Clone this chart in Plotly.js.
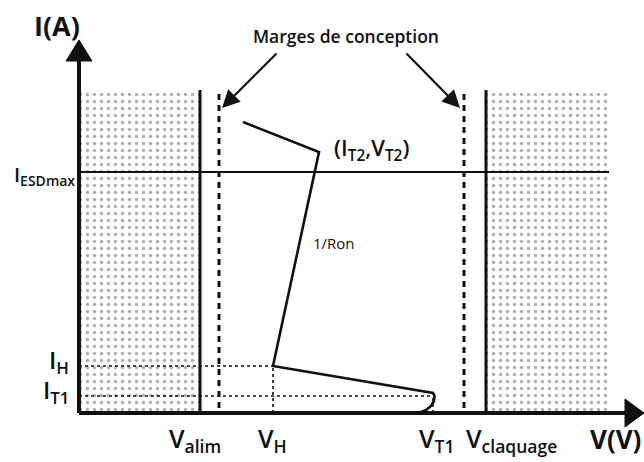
<!DOCTYPE html>
<html><head><meta charset="utf-8">
<script src="https://cdn.plot.ly/plotly-3.0.1.min.js"></script>
<style>html,body{margin:0;padding:0;background:#fff}</style>
</head><body><div id="chart" style="width:644px;height:462px"></div>
<script>
// Schematic coordinates (V, I in arbitrary units)
const Valim = 121, Vmarge1 = 140, VH = 194, VT2 = 240, VT1 = 354, Vmarge2 = 385, Vclaq = 407, Vend = 530;
const IH = 47, IT1 = 17, IESD = 241, IT2 = 261, Itop = 323;
const curveV = [164, 240, 194, 354, 355.5, 355, 352, 347, 342, 337];
const curveI = [291, 261, 47, 20, 17, 12, 7, 3, 1, 0];
const zoneCenters = [60.5, 468.5];
const zoneWidths = [121, 123];
const zoneHeights = [Itop, Itop];
const yAxisV = [0, 0], yAxisI = [0, 355];
const xAxisV = [0, 548], xAxisI = [0, 0];
const yArrowV = [-13, 13, 0, -13], yArrowI = [352, 352, 373, 352];
const xArrowV = [546, 546, 565, 546], xArrowI = [-14, 14, 0, -14];
const tickLabels = ['V<sub>alim</sub>', 'V<sub>H</sub>', 'V<sub>T1</sub>', 'V<sub>claquage</sub>'];
const tickV = [116, 193, 357, 432];
const ylabels = ['I<sub>H</sub>', 'I<sub>T1</sub>'];
const ylabelI = [52, 22];

const FONT = 'Open Sans, sans-serif';
const K = '#111';
const traces = [];
traces.push({type:'bar', x:zoneCenters, y:zoneHeights, width:zoneWidths, base:[0,0],
  marker:{color:'white', line:{width:0}, pattern:{shape:'.', fgcolor:'#b0b0b0', bgcolor:'white', size:7, solidity:0.2}},
  hoverinfo:'skip', showlegend:false});
function line(xs, ys, w, dash, color){
  traces.push({type:'scatter', mode:'lines', x:xs, y:ys, line:{color:color||K, width:w, dash:dash||'solid'}, hoverinfo:'skip', showlegend:false});
}
// horizontal IESDmax line
line([0, Vend], [IESD, IESD], 2);
// dotted guides
line([0, VH], [IH, IH], 1.6, 'dot');
line([VH, VH], [0, IH], 1.6, 'dot');
line([0, VT1], [IT1, IT1], 1.6, 'dot');
line([VT1, VT1], [0, IT1], 1.6, 'dot');
// supply & breakdown
line([Valim, Valim], [0, Itop], 3);
line([Vclaq, Vclaq], [0, Itop], 3);
// design margins
line([Vmarge1, Vmarge1], [5, Itop], 3, '6px,5px');
line([Vmarge2, Vmarge2], [5, Itop], 3, '6px,5px');
// I-V curve
traces.push({type:'scatter', mode:'lines', x:curveV, y:curveI, line:{color:K, width:2.6}, hoverinfo:'skip', showlegend:false});
// axes
line(yAxisV, yAxisI, 4);
line(xAxisV, xAxisI, 4);
traces.push({type:'scatter', mode:'lines', x:yArrowV, y:yArrowI, fill:'toself', fillcolor:K, line:{color:K, width:1}, hoverinfo:'skip', showlegend:false});
traces.push({type:'scatter', mode:'lines', x:xArrowV, y:xArrowI, fill:'toself', fillcolor:K, line:{color:K, width:1}, hoverinfo:'skip', showlegend:false});

const ann = [];
function txt(x, y, t, size, opts, weight){
  ann.push(Object.assign({x:x, y:y, xref:'x', yref:'y', text:t, showarrow:false, font:{family:FONT, size:size, color:K, weight:weight||600}}, opts||{}));
}
txt(-22, 388, 'I(A)', 27, null, 700);
txt(267, 377, 'Marges de conception', 17.5);
txt(292, 264, '(I<sub>T2</sub>,V<sub>T2</sub>)', 22);
txt(255, 170, '1/Ron', 15, null, 400);
txt(-2, 238, 'I<sub>ESDmax</sub>', 20, {xanchor:'right'});
for (let i = 0; i < ylabels.length; i++) txt(-8, ylabelI[i], ylabels[i], 24, {xanchor:'right'});
for (let i = 0; i < tickLabels.length; i++) txt(tickV[i], -26, tickLabels[i], 25);
txt(536, -26, 'V(V)', 26, null, 700);
// arrows to margins
ann.push({x:143, y:305, ax:199, ay:361, xref:'x', yref:'y', axref:'x', ayref:'y', text:'', showarrow:true, arrowhead:2, arrowsize:1.6, arrowwidth:2.2, arrowcolor:K});
ann.push({x:381, y:305, ax:326, ay:361, xref:'x', yref:'y', axref:'x', ayref:'y', text:'', showarrow:true, arrowhead:2, arrowsize:1.6, arrowwidth:2.2, arrowcolor:K});

Plotly.newPlot('chart', traces, {
  width:644, height:462, margin:{l:0, r:0, t:0, b:0},
  paper_bgcolor:'white', plot_bgcolor:'white',
  xaxis:{range:[-79, 565], visible:false, fixedrange:true},
  yaxis:{range:[-49, 413], visible:false, fixedrange:true},
  barmode:'overlay', bargap:0, annotations:ann, showlegend:false
}, {staticPlot:true});
</script></body></html>
